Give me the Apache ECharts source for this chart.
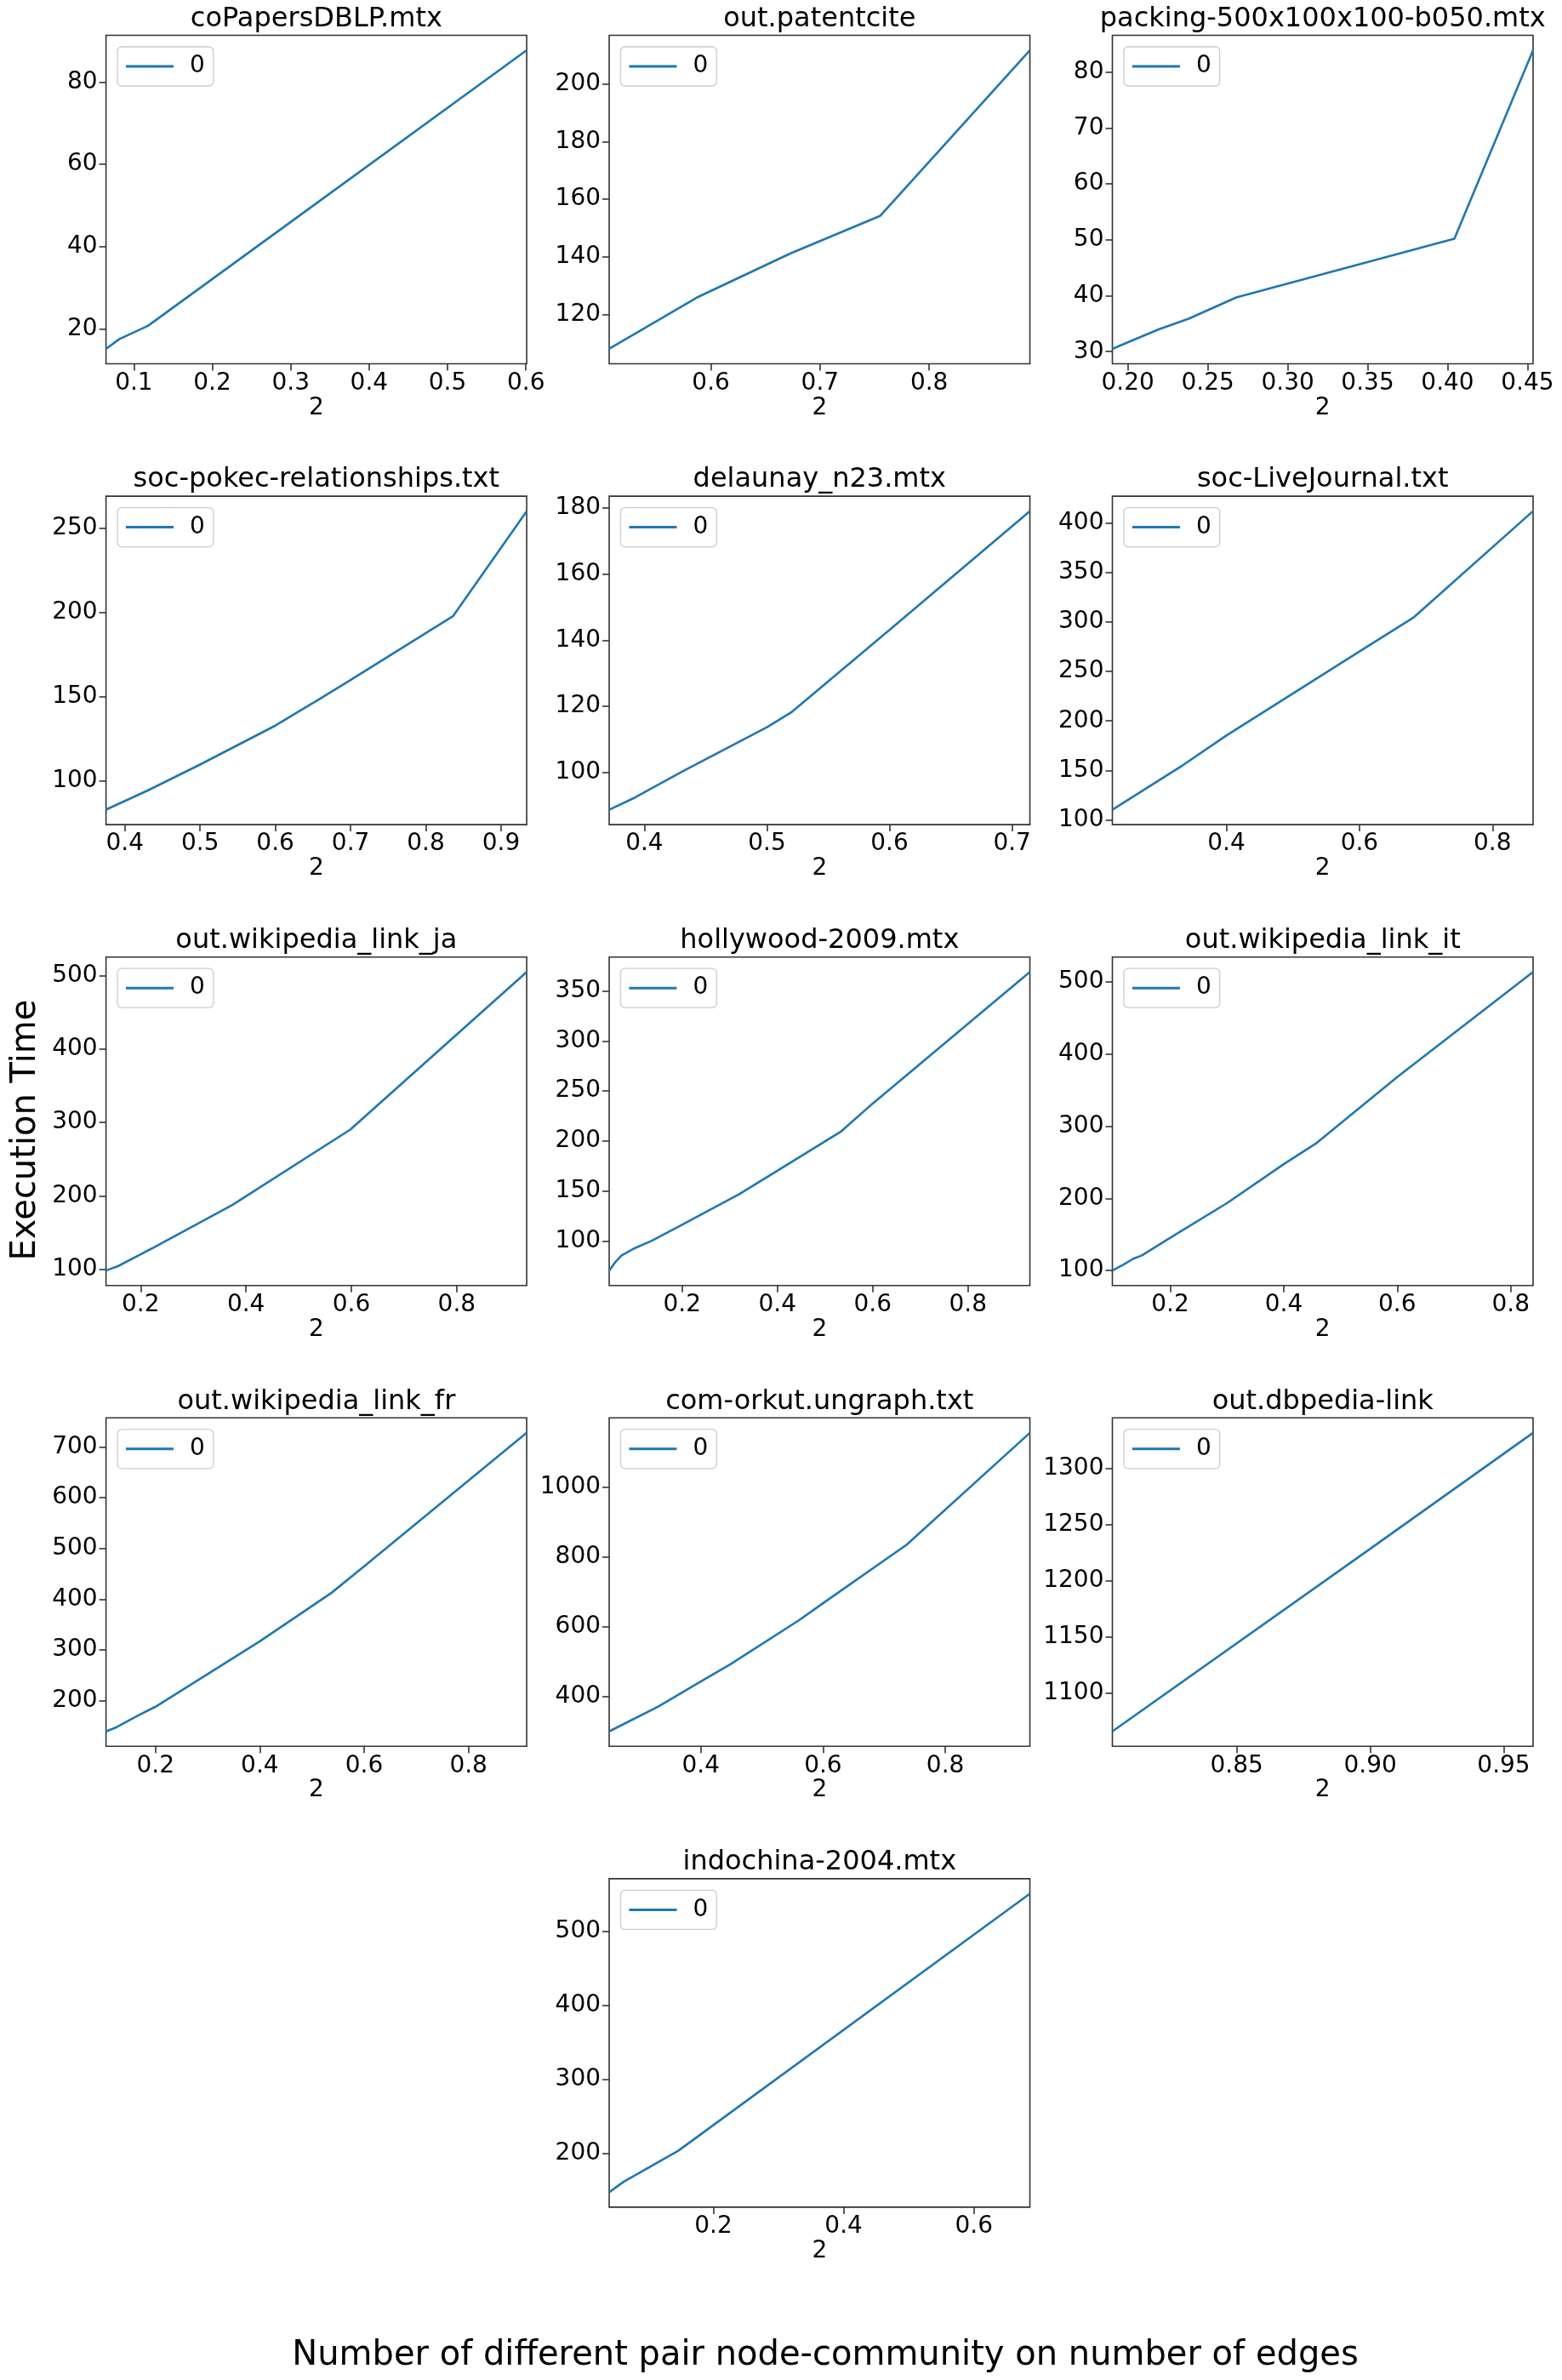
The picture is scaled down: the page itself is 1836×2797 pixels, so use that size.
<!DOCTYPE html>
<html><head><meta charset="utf-8">
<script src="https://cdn.jsdelivr.net/npm/echarts@6/dist/echarts.min.js"></script>
<style>html,body{margin:0;padding:0;background:#fff}#c{width:1836px;height:2797px}</style>
</head><body><div id="c"></div>
<script>
// ---- Data ----
const titles = ['coPapersDBLP.mtx','out.patentcite','packing-500x100x100-b050.mtx',
  'soc-pokec-relationships.txt','delaunay_n23.mtx','soc-LiveJournal.txt',
  'out.wikipedia_link_ja','hollywood-2009.mtx','out.wikipedia_link_it',
  'out.wikipedia_link_fr','com-orkut.ungraph.txt','out.dbpedia-link','indochina-2004.mtx'];
const seriesName = '0';
const xAxisName = '2';
const yLabel = 'Execution Time';
const xLabel = 'Number of different pair node-community on number of edges';

const coPapersX = [0.0644,0.0816,0.118,0.3,0.601];
const coPapersY = [15.2,17.6,20.8,46.0,87.7];
const patentX = [0.5068,0.587,0.673,0.755,0.8923];
const patentY = [108.0,125.8,141.2,154.2,211.8];
const packingX = [0.1903,0.1978,0.2194,0.2381,0.2679,0.4043,0.4535];
const packingY = [30.5,31.4,34.0,35.9,39.7,50.2,83.9];
const pokecX = [0.375,0.431,0.5,0.6,0.658,0.7,0.836,0.934];
const pokecY = [82.9,94.4,109.7,132.8,148.4,159.9,197.7,260.1];
const delaunayX = [0.3713,0.3924,0.4307,0.5,0.5198,0.6,0.7145];
const delaunayY = [88.6,92.3,100.1,113.6,118.1,143.1,179.1];
const liveJournalX = [0.2286,0.335,0.4,0.6,0.682,0.861];
const liveJournalY = [110.4,155.5,185.3,270.1,304.7,411.8];
const wikiJaX = [0.1343,0.157,0.2,0.221,0.374,0.598,0.9328];
const wikiJaY = [98.4,104.4,120.4,128.4,187.6,290.4,505.1];
const hollywoodX = [0.0471,0.06,0.0732,0.1013,0.1365,0.2,0.32,0.4,0.534,0.6,0.93];
const hollywoodY = [70.5,79,85.7,93,100.3,116.3,146.8,170.2,209.6,237.4,368.9];
const wikiItX = [0.098,0.119,0.134,0.15,0.2,0.301,0.4,0.456,0.6,0.8394];
const wikiItY = [100,108.9,116.1,121,145.4,194,247.5,275.8,368.3,514.1];
const wikiFrX = [0.1052,0.125,0.1665,0.2,0.328,0.4,0.537,0.6,0.9116];
const wikiFrY = [139.3,147.4,170.6,187.9,270.4,316.8,412.1,464.9,727.9];
const orkutX = [0.2502,0.331,0.4,0.449,0.5615,0.6,0.737,0.9384];
const orkutY = [299,370.5,441.9,492.1,618.5,666.3,834.4,1155];
const dbpediaX = [0.8034,0.9,0.961];
const dbpediaY = [1065.6,1228.4,1331.8];
const indochinaX = [0.04,0.062,0.146,0.686];
const indochinaY = [148,162,204,551];

// tick labels
const xTicks = [
  ['0.1','0.2','0.3','0.4','0.5','0.6'],
  ['0.6','0.7','0.8'],
  ['0.20','0.25','0.30','0.35','0.40','0.45'],
  ['0.4','0.5','0.6','0.7','0.8','0.9'],
  ['0.4','0.5','0.6','0.7'],
  ['0.4','0.6','0.8'],
  ['0.2','0.4','0.6','0.8'],
  ['0.2','0.4','0.6','0.8'],
  ['0.2','0.4','0.6','0.8'],
  ['0.2','0.4','0.6','0.8'],
  ['0.4','0.6','0.8'],
  ['0.85','0.90','0.95'],
  ['0.2','0.4','0.6']
];
const yTicks = [
  [20,40,60,80],
  [120,140,160,180,200],
  [30,40,50,60,70,80],
  [100,150,200,250],
  [100,120,140,160,180],
  [100,150,200,250,300,350,400],
  [100,200,300,400,500],
  [100,150,200,250,300,350],
  [100,200,300,400,500],
  [200,300,400,500,600,700],
  [400,600,800,1000],
  [1100,1150,1200,1250,1300],
  [200,300,400,500]
];

const xsList = [coPapersX,patentX,packingX,pokecX,delaunayX,liveJournalX,wikiJaX,hollywoodX,wikiItX,wikiFrX,orkutX,dbpediaX,indochinaX];
const ysList = [coPapersY,patentY,packingY,pokecY,delaunayY,liveJournalY,wikiJaY,hollywoodY,wikiItY,wikiFrY,orkutY,dbpediaY,indochinaY];

// ---- Layout ----
const FONT = 'DejaVu Sans';
const L0 = 124.6, COLSTEP = 591.45, T0 = 41.5, ROWSTEP = 541.6, W = 494.5, H = 386;
const AX = '#333333';
const BLUE = '#1f77b4';
const TICK_FS = 28;

const grid = [], xAxis = [], yAxis = [], series = [], legend = [], title = [];
titles.forEach((t, i) => {
  const row = Math.floor(i / 3);
  const col = i === 12 ? 1 : i % 3;
  const left = L0 + COLSTEP * col;
  const top = T0 + ROWSTEP * row;
  grid.push({left: left, top: top, width: W, height: H, show: true,
    borderColor: AX, borderWidth: 1.6, backgroundColor: '#fff', containLabel: false});
  const xdec = xTicks[i][0].split('.')[1].length;
  xAxis.push({type: 'value', gridIndex: i, min: 'dataMin', max: 'dataMax',
    name: xAxisName, nameLocation: 'middle', nameGap: 37,
    nameTextStyle: {fontSize: TICK_FS, fontFamily: FONT, color: '#000'},
    axisLine: {show: false}, splitLine: {show: false},
    axisTick: {show: true, length: 8, lineStyle: {color: AX, width: 1.6}, customValues: xTicks[i].map(Number)},
    axisLabel: {fontSize: TICK_FS, fontFamily: FONT, color: '#000', margin: 9,
      customValues: xTicks[i].map(Number), formatter: v => Number(v).toFixed(xdec)}
  });
  yAxis.push({type: 'value', gridIndex: i,
    min: v => v.min - 0.05 * (v.max - v.min), max: v => v.max + 0.05 * (v.max - v.min),
    axisLine: {show: false}, splitLine: {show: false},
    axisTick: {show: true, length: 8, lineStyle: {color: AX, width: 1.6}, customValues: yTicks[i]},
    axisLabel: {fontSize: TICK_FS, fontFamily: FONT, color: '#000', margin: 10,
      customValues: yTicks[i], formatter: v => String(Math.round(v))}
  });
  series.push({type: 'line', name: seriesName, xAxisIndex: i, yAxisIndex: i,
    data: xsList[i].map((x, k) => [x, ysList[i][k]]),
    showSymbol: false, symbol: 'none', lineStyle: {color: BLUE, width: 2.6},
    itemStyle: {color: BLUE}, animation: false});
  legend.push({data: [seriesName], left: left + 13.4, top: top + 13.5, selectedMode: false,
    icon: 'path://M0 0H56V3H0Z', itemWidth: 56, itemHeight: 3,
    padding: [9, 10, 9, 10], borderColor: '#cccccc', borderWidth: 1.3, borderRadius: 5,
    backgroundColor: 'rgba(255,255,255,0.8)',
    textStyle: {fontSize: TICK_FS, fontFamily: FONT, color: '#000', padding: [0, 0, 0, 14], lineHeight: 28}});
  title.push({text: t, left: left + W / 2, textAlign: 'center', top: top - 35, padding: 0,
    textStyle: {fontSize: 32, fontWeight: 'normal', fontFamily: FONT, color: '#000', lineHeight: 32}});
});

const chart = echarts.init(document.getElementById('c'), null, {renderer: 'canvas'});
chart.setOption({
  backgroundColor: '#fff',
  animation: false,
  title, grid, xAxis, yAxis, series, legend,
  graphic: [
    {type: 'text', x: 31, y: 1328, rotation: Math.PI / 2,
      style: {text: yLabel, fontSize: 40, fontFamily: FONT, fill: '#000', textAlign: 'center', textVerticalAlign: 'middle'}},
    {type: 'text', x: 970, y: 2769,
      style: {text: xLabel, fontSize: 40, fontFamily: FONT, fill: '#000', textAlign: 'center', textVerticalAlign: 'middle'}}
  ]
});
</script></body></html>
